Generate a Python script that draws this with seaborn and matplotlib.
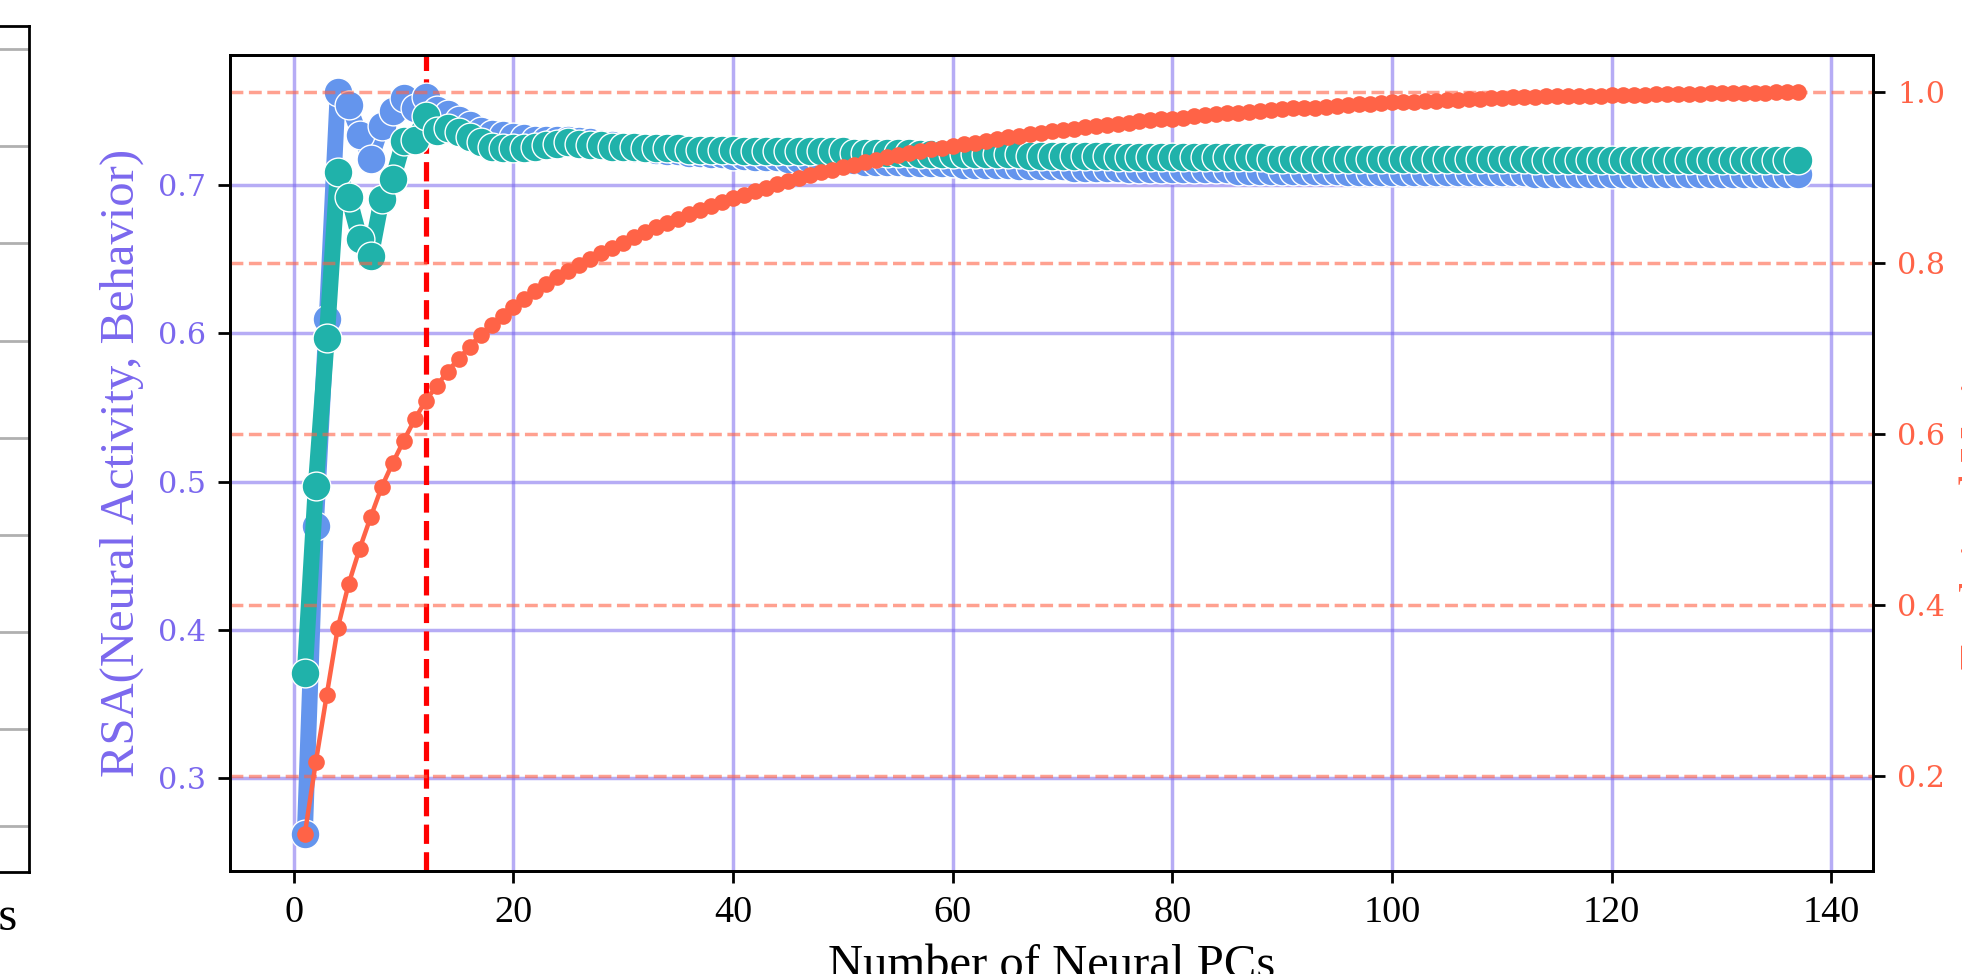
import matplotlib
matplotlib.use("Agg")
import matplotlib.pyplot as plt
import numpy as np
import pandas as pd
import seaborn as sns

# ---------------- data ----------------
n_pcs = list(range(1, 138))

rsa_all = [0.262,0.470,0.610,0.763,0.754,0.734,0.718,0.740,0.750,0.759,
           0.752,0.760,0.751,0.748,0.744,0.741,0.737,0.735,0.734,0.733,
           0.732,0.731,0.731,0.731,0.731,0.730,0.729,0.728,0.727,0.726,
           0.725,0.725,0.724,0.723,0.723,0.722,0.722,0.721,0.721,0.720,
           0.720,0.719,0.719,0.719,0.718,0.718,0.718,0.717,0.717,0.717,
           0.717,0.716,0.716,0.716,0.716,0.715,0.715,0.715,0.715,0.715,
           0.714,0.714,0.714,0.714,0.714,0.713,0.713,0.713,0.713,0.713,
           0.712,0.712,0.712,0.712,0.712,0.711,0.711,0.711,0.711,0.711,
           0.711,0.711,0.711,0.711,0.711,0.710,0.710,0.710,0.710,0.710,
           0.710,0.710,0.710,0.710,0.710,0.709,0.709,0.709,0.709,0.709,
           0.709,0.709,0.709,0.709,0.709,0.709,0.709,0.709,0.709,0.709,
           0.709,0.709,0.708,0.708,0.708,0.708,0.708,0.708,0.708,0.708,
           0.708,0.708,0.708,0.708,0.708,0.708,0.708,0.708,0.708,0.708,
           0.708,0.708,0.708,0.708,0.708,0.708,0.708]

rsa_alt = [0.371,0.497,0.597,0.709,0.692,0.664,0.652,0.691,0.704,0.730,
           0.731,0.747,0.737,0.739,0.736,0.733,0.729,0.726,0.725,0.725,
           0.725,0.726,0.727,0.728,0.729,0.728,0.727,0.727,0.726,0.726,
           0.726,0.725,0.725,0.725,0.725,0.724,0.724,0.724,0.724,0.724,
           0.723,0.723,0.723,0.723,0.723,0.723,0.723,0.723,0.723,0.723,
           0.722,0.722,0.722,0.722,0.722,0.722,0.721,0.721,0.721,0.721,
           0.721,0.721,0.721,0.721,0.721,0.721,0.720,0.720,0.720,0.720,
           0.720,0.720,0.720,0.720,0.719,0.719,0.719,0.719,0.719,0.719,
           0.719,0.719,0.719,0.719,0.719,0.719,0.719,0.719,0.718,0.718,
           0.718,0.718,0.718,0.718,0.718,0.718,0.718,0.718,0.718,0.718,
           0.718,0.718,0.718,0.718,0.718,0.718,0.718,0.718,0.718,0.718,
           0.718,0.718,0.717,0.717,0.717,0.717,0.717,0.717,0.717,0.717,
           0.717,0.717,0.717,0.717,0.717,0.717,0.717,0.717,0.717,0.717,
           0.717,0.717,0.717,0.717,0.717,0.717,0.717]

cum_var = [0.132,0.216,0.295,0.373,0.425,0.466,0.503,0.538,0.566,0.592,
           0.617,0.639,0.656,0.673,0.688,0.702,0.716,0.727,0.738,0.749,
           0.758,0.767,0.776,0.784,0.791,0.798,0.805,0.812,0.818,0.824,
           0.830,0.836,0.842,0.847,0.852,0.857,0.862,0.867,0.872,0.876,
           0.880,0.884,0.888,0.892,0.896,0.899,0.903,0.906,0.909,0.912,
           0.915,0.918,0.921,0.924,0.926,0.929,0.931,0.933,0.935,0.937,
           0.939,0.941,0.943,0.945,0.947,0.949,0.951,0.952,0.954,0.956,
           0.957,0.959,0.960,0.962,0.963,0.964,0.966,0.967,0.968,0.969,
           0.970,0.972,0.973,0.974,0.975,0.976,0.977,0.978,0.979,0.980,
           0.981,0.982,0.982,0.983,0.984,0.985,0.986,0.986,0.987,0.988,
           0.988,0.989,0.990,0.990,0.991,0.991,0.992,0.992,0.993,0.993,
           0.994,0.994,0.994,0.995,0.995,0.995,0.996,0.996,0.996,0.997,
           0.997,0.997,0.997,0.998,0.998,0.998,0.998,0.998,0.999,0.999,
           0.999,0.999,0.999,0.999,1.000,1.000,1.000]

selected_pc = 12
left_grid_rows = list(range(9))
x_ticks = [0, 20, 40, 60, 80, 100, 120, 140]
rsa_ticks = [0.3, 0.4, 0.5, 0.6, 0.7]
var_ticks = [0.2, 0.4, 0.6, 0.8, 1.0]

df = pd.DataFrame({"pc": n_pcs, "rsa_all": rsa_all, "rsa_alt": rsa_alt, "cum_var": cum_var})

# ---------------- style ----------------
plt.rcParams["font.family"] = ["Liberation Serif", "DejaVu Serif"]
plt.rcParams["axes.linewidth"] = 0.8

fig = plt.figure(figsize=(1962 / 250, 974 / 250), dpi=250)

# partial neighbouring panel (cut off at the left edge)
axL = fig.add_axes([-0.30, 0.1047, 0.3149, 0.8681])
axL.set_ylim(-0.474, 8.234)
axL.set_yticks(left_grid_rows)
axL.set_yticklabels([])
axL.set_xticks([])
axL.tick_params(axis="y", length=0)
axL.grid(True, axis="y", color="#b0b0b0", lw=0.8)
fig.text(17 / 1962, 1 - 930 / 974, "Number of Neural PCs", ha="right", va="baseline",
         fontsize=14, color="black")

# main panel
ax = fig.add_axes([0.1173, 0.1057, 0.8374, 0.8378])
purple = "mediumslateblue"
ax.grid(True, color=purple, alpha=0.55, lw=1.0)
ax.set_axisbelow(True)

ax.axvline(selected_pc, color="red", ls="--", lw=1.5, zorder=1.5)

sns.lineplot(data=df, x="pc", y="rsa_all", ax=ax, color="cornflowerblue", lw=4.6,
             marker="o", markersize=8.3, markeredgewidth=0.4, zorder=2)
sns.lineplot(data=df, x="pc", y="rsa_alt", ax=ax, color="lightseagreen", lw=4.6,
             marker="o", markersize=8.3, markeredgewidth=0.4, zorder=3)

ax.set_xlabel("Number of Neural PCs", fontsize=14)
ax.set_ylabel("RSA(Neural Activity, Behavior)", fontsize=14, color=purple)
ax.set_xticks(x_ticks)
ax.set_yticks(rsa_ticks)
ax.tick_params(axis="x", labelsize=11)
ax.tick_params(axis="y", labelcolor=purple)
for lab in ax.get_yticklabels():
    lab.set_fontfamily(["DejaVu Serif"])
    lab.set_fontsize(8.7)

ax2 = ax.twinx()
sns.lineplot(data=df, x="pc", y="cum_var", ax=ax2, color="tomato", lw=1.3,
             marker="o", markersize=4.8, markeredgewidth=0)
ax2.grid(True, axis="y", color="tomato", ls="--", lw=1.0, alpha=0.6)
ax2.set_yticks(var_ticks)
ax2.tick_params(axis="y", labelcolor="tomato")
for lab in ax2.get_yticklabels():
    lab.set_fontfamily(["DejaVu Serif"])
    lab.set_fontsize(8.7)
ax2.set_ylabel("")
ax2.set_xlabel("")

fig.text(1960 / 1962, 1 - 480 / 974, "Explained Variance", rotation=90,
         ha="left", va="center", fontsize=14, color="tomato")

fig.savefig("out.png", dpi=250)
